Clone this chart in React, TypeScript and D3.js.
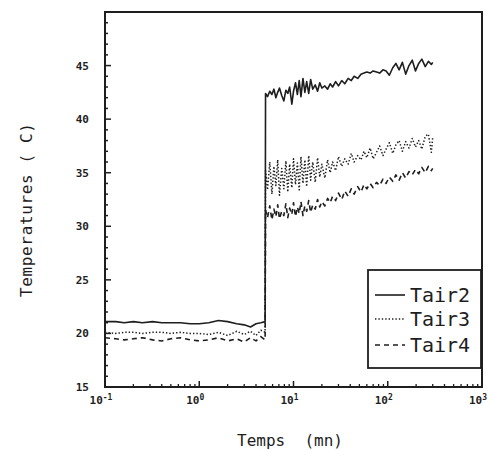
import React from "react";
import * as d3 from "d3";

const preTimes = [0.1, 0.13, 0.16, 0.2, 0.25, 0.32, 0.4, 0.5, 0.63, 0.8, 1.0, 1.26, 1.6, 2.0, 2.5, 3.0, 3.5, 4.0, 4.5, 5.0];
const postTimes = [5.05, 5.3, 5.6, 5.9, 6.2, 6.5, 6.8, 7.1, 7.5, 7.9, 8.3, 8.7, 9.1, 9.6, 10, 10.5, 11, 11.5, 12, 12.6, 13.2, 13.8, 14.5, 15.2, 16, 17, 18, 19, 20, 21.5, 23, 24.5, 26, 28, 30, 32.5, 35, 38, 41, 44, 48, 52, 56, 60, 65, 70, 76, 82, 89, 96, 104, 113, 122, 132, 143, 155, 168, 182, 197, 213, 230, 250, 270, 290, 300];

const tair2Pre = [21.1, 21.1, 21.0, 21.1, 21.0, 21.1, 21.0, 21.0, 21.0, 20.9, 20.9, 21.0, 21.2, 21.1, 20.9, 20.8, 20.6, 20.9, 21.0, 21.1];
const tair3Pre = [20.1, 20.0, 20.1, 20.1, 20.0, 20.1, 20.1, 20.0, 20.1, 20.0, 20.0, 19.9, 20.1, 19.8, 20.2, 19.9, 20.2, 19.8, 20.3, 20.1];
const tair4Pre = [19.6, 19.5, 19.4, 19.5, 19.6, 19.4, 19.3, 19.5, 19.6, 19.4, 19.3, 19.4, 19.6, 19.3, 19.5, 19.2, 19.6, 19.3, 19.7, 19.4];

const tair2Post = [42.4, 42.1, 42.6, 42.3, 42.8, 42.0, 42.5, 42.9, 42.2, 41.7, 42.7, 42.4, 43.0, 41.4, 42.6, 43.4, 42.3, 43.6, 42.1, 43.8, 42.5, 43.5, 42.4, 43.7, 42.8, 43.2, 42.6, 43.4, 42.9, 43.1, 42.8, 43.3, 43.0, 43.5, 43.1, 43.6, 43.3, 43.8, 43.6, 44.0, 43.8, 44.2, 44.3, 44.4, 44.3, 44.5, 44.4, 44.3, 44.6, 44.5, 44.1, 44.8, 45.2, 44.6, 45.3, 44.2, 45.0, 45.5, 44.5, 45.2, 45.6, 44.9, 45.4, 45.1, 45.3];
const tair3Post = [35.2, 33.4, 36.0, 33.0, 35.6, 33.8, 36.2, 32.9, 35.4, 33.5, 36.1, 33.2, 35.8, 33.6, 36.3, 33.9, 35.9, 33.4, 36.5, 34.0, 36.2, 33.7, 36.6, 34.3, 36.0, 34.1, 36.4, 34.6, 35.8, 34.5, 36.2, 35.0, 36.0, 35.2, 36.5, 35.6, 36.3, 35.8, 36.8, 36.0, 36.6, 36.2, 37.0, 36.4, 37.3, 36.3, 36.9, 37.5, 36.6, 37.2, 37.8, 36.8, 37.6, 38.0, 37.0, 37.9, 37.3, 38.2, 37.4, 38.0, 37.2, 38.4, 38.6, 36.9, 38.3];
const tair4Post = [31.5, 30.8, 31.9, 30.6, 31.6, 30.9, 32.0, 30.7, 31.4, 31.0, 32.1, 30.8, 31.7, 31.1, 32.2, 30.9, 31.8, 31.2, 32.3, 31.0, 31.9, 31.4, 32.4, 31.3, 32.0, 31.6, 32.5, 31.8, 32.3, 31.9, 32.6, 32.2, 32.8, 32.4, 33.1, 32.5, 33.3, 32.8, 33.5, 33.0, 33.7, 33.2, 33.9, 33.5, 34.0, 33.6, 34.1, 33.8, 34.4, 34.0, 34.6, 34.2, 34.8, 34.3, 35.0, 34.5, 35.1, 34.8, 35.3, 34.9, 35.5, 35.0, 35.6, 35.2, 35.4];

const yTicks = [15, 20, 25, 30, 35, 40, 45];
const xDecades = [-1, 0, 1, 2, 3];
const seriesNames = ["Tair2", "Tair3", "Tair4"];

const W = 492, H = 450;
const L = 105, R = 482, T = 12, B = 387;
const INK = "#1e1e1e";
const MONO = "'DejaVu Sans Mono', 'Liberation Mono', monospace";

export default function App() {
  const x = d3.scaleLog().domain([0.1, 1000]).range([L, R]);
  const y = d3.scaleLinear().domain([15, 50]).range([B, T]);
  const times = [...preTimes, ...postTimes];
  const series = [
    { name: seriesNames[0], v: [...tair2Pre, ...tair2Post], dash: undefined as string | undefined, w: 1.6 },
    { name: seriesNames[1], v: [...tair3Pre, ...tair3Post], dash: "1.4 2", w: 1.5 },
    { name: seriesNames[2], v: [...tair4Pre, ...tair4Post], dash: "5 4", w: 1.6 },
  ];
  const line = d3.line<number>().x((_, i) => x(times[i])).y((d) => y(d));

  const minorY = d3.range(16, 50).filter((v) => v % 5 !== 0);
  const minorX: number[] = [];
  for (let e = -1; e < 3; e++) for (let k = 2; k <= 9; k++) minorX.push(k * Math.pow(10, e));

  const legY = [295, 319, 345];

  return (
    <svg width={W} height={H} style={{ position: "absolute", left: 0, top: 0, background: "#fff" }}>
      <rect x={0} y={0} width={W} height={H} fill="#fff" />
      {series.map((s) => (
        <path key={s.name} d={line(s.v) || ""} fill="none" stroke={INK} strokeWidth={s.w} strokeDasharray={s.dash} strokeLinejoin="round" />
      ))}
      {/* frame */}
      <rect x={L} y={T} width={R - L} height={B - T} fill="none" stroke={INK} strokeWidth={2} />
      {/* y ticks */}
      {yTicks.map((v) => (
        <g key={"yt" + v}>
          <line x1={L} x2={L + 6} y1={y(v)} y2={y(v)} stroke={INK} strokeWidth={1.5} />
          <text x={89} y={y(v) + 4} textAnchor="end" fontFamily={MONO} fontWeight="bold" fontSize={11} fill={INK}>{v}</text>
        </g>
      ))}
      {minorY.map((v) => (
        <line key={"ym" + v} x1={L} x2={L + 3} y1={y(v)} y2={y(v)} stroke={INK} strokeWidth={1.5} />
      ))}
      {/* x ticks */}
      {xDecades.map((e) => (
        <g key={"xt" + e}>
          <line x1={x(Math.pow(10, e))} x2={x(Math.pow(10, e))} y1={B} y2={B - 6} stroke={INK} strokeWidth={1.5} />
          <text x={x(Math.pow(10, e)) - 4} y={404} textAnchor="middle" fontFamily={MONO} fontWeight="bold" fontSize={11} fill={INK}>
            10<tspan dy={-4} fontSize={8}>{e}</tspan>
          </text>
        </g>
      ))}
      {minorX.map((v) => (
        <line key={"xm" + v} x1={x(v)} x2={x(v)} y1={B} y2={B - 3} stroke={INK} strokeWidth={1.3} />
      ))}
      {/* axis titles */}
      <text x={290} y={446} textAnchor="middle" fontFamily={MONO} fontSize={16} fill={INK} style={{ whiteSpace: "pre" }}>Temps  (mn)</text>
      <text transform="translate(32,210) rotate(-90)" textAnchor="middle" fontFamily={MONO} fontSize={16} fill={INK} textLength={174} style={{ whiteSpace: "pre" }}>Temperatures ( C)</text>
      {/* legend */}
      <rect x={368} y={270} width={113} height={98} fill="#fff" stroke={INK} strokeWidth={1.8} />
      {series.map((s, i) => (
        <g key={"lg" + s.name}>
          <line x1={375} x2={405} y1={legY[i]} y2={legY[i]} stroke={INK} strokeWidth={s.w} strokeDasharray={s.dash} />
          <text x={410} y={legY[i] + 7} fontFamily={MONO} fontSize={20} fill={INK} textLength={60}>{s.name}</text>
        </g>
      ))}
    </svg>
  );
}
